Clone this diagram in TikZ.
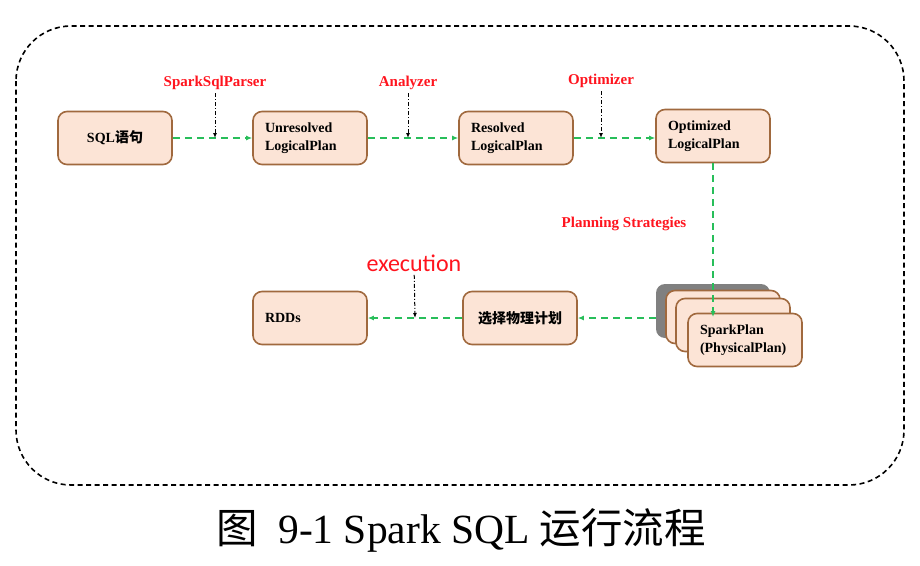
\documentclass[tikz,border=0pt]{standalone}
\usepackage{fontspec}
\setmainfont{Liberation Serif}
\newfontfamily\cjk{Noto Sans CJK SC}
\newfontfamily\calibri{Carlito}
\usetikzlibrary{arrows.meta,calc}
\definecolor{planfill}{RGB}{252,228,214}
\definecolor{planedge}{RGB}{160,105,62}
\definecolor{flowgreen}{RGB}{40,190,90}
\definecolor{labelred}{RGB}{255,20,30}

\begin{document}
\begin{tikzpicture}[x=1pt,y=-1pt,
  plan/.style={draw=planedge, line width=1.6pt, fill=planfill, rounded corners=9pt,
    minimum width=114pt, minimum height=53pt, text width=90pt, align=left,
    font=\bfseries\fontsize{14}{18}\selectfont},
  stage/.style={text=labelred, font=\bfseries\fontsize{15}{17}\selectfont},
  flow/.style={flowgreen, line width=1.8pt, dash pattern=on 7pt off 5pt,
    -{Latex[length=6pt,width=5pt]}},
  hook/.style={black, line width=1pt, dash pattern=on 4pt off 2pt on 1pt off 2pt,
    -{Latex[length=5pt,width=4pt]}}]

\useasboundingbox (0,0) rectangle (920,565);

%% frame
\draw[line width=1.6pt, dash pattern=on 5pt off 3.5pt, rounded corners=55pt]
  (16,26) rectangle (904,485);

%% top row
\node[plan, align=center] (sql) at (115,138) {SQL{\cjk 语句}};
\node[plan] (unres) at (310,138) {Unresolved\\LogicalPlan};
\node[plan] (res) at (516,138) {Resolved\\LogicalPlan};
\node[plan] (opt) at (713,136) {Optimized\\LogicalPlan};

%% bottom row
\node[plan] (rdd) at (310,318) {RDDs};
\node[plan, align=center] (sel) at (520,318) {\cjk 选择物理计划};

%% stack of physical plans
\node[fill=black!50, rounded corners=9pt, minimum width=114pt, minimum height=54pt]
  (shadow) at (713,311) {};
\node[plan] (sp1) at (723,317) {};
\node[plan] (sp2) at (733,325) {};
\node[plan] (sp) at (745,340) {SparkPlan\\(PhysicalPlan)};

%% stage labels
\node[stage] (parser) at (215,83) {SparkSqlParser};
\node[stage] (analyzer) at (408,83) {Analyzer};
\node[stage] (optimizer) at (601,81) {Optimizer};
\node[stage] (planning) at (624,224) {Planning Strategies};
\node[text=labelred, font=\calibri\fontsize{24}{26}\selectfont] (exec) at (414,263) {execution};

\coordinate (p1) at (215,138);
\coordinate (p2) at (408,138);
\coordinate (p3) at (601,138);
\coordinate (p4) at ($(rdd.east)!0.5!(sel.west)$);
\coordinate (drop) at (713,317);

%% flow
\draw[flow] (sql) -- (unres);
\draw[flow] (unres) -- (res);
\draw[flow] (res.east) -- (opt.west |- res.east);
\draw[flow] (opt) -- (drop);
\draw[flow] (sel.east -| shadow.west) -- (sel);
\draw[flow] (sel) -- (rdd);

%% hooks
\draw[hook] (parser) -- (p1);
\draw[hook] (analyzer) -- (p2);
\draw[hook] (optimizer) -- (p3);
\draw[hook] (exec) -- (p4);

%% caption
\node[font=\fontsize{41.5}{46}\selectfont] (caption) at (461,530)
  {{\cjk 图}\ \ 9-1 Spark SQL {\cjk 运行流程}};

\end{tikzpicture}
\end{document}
